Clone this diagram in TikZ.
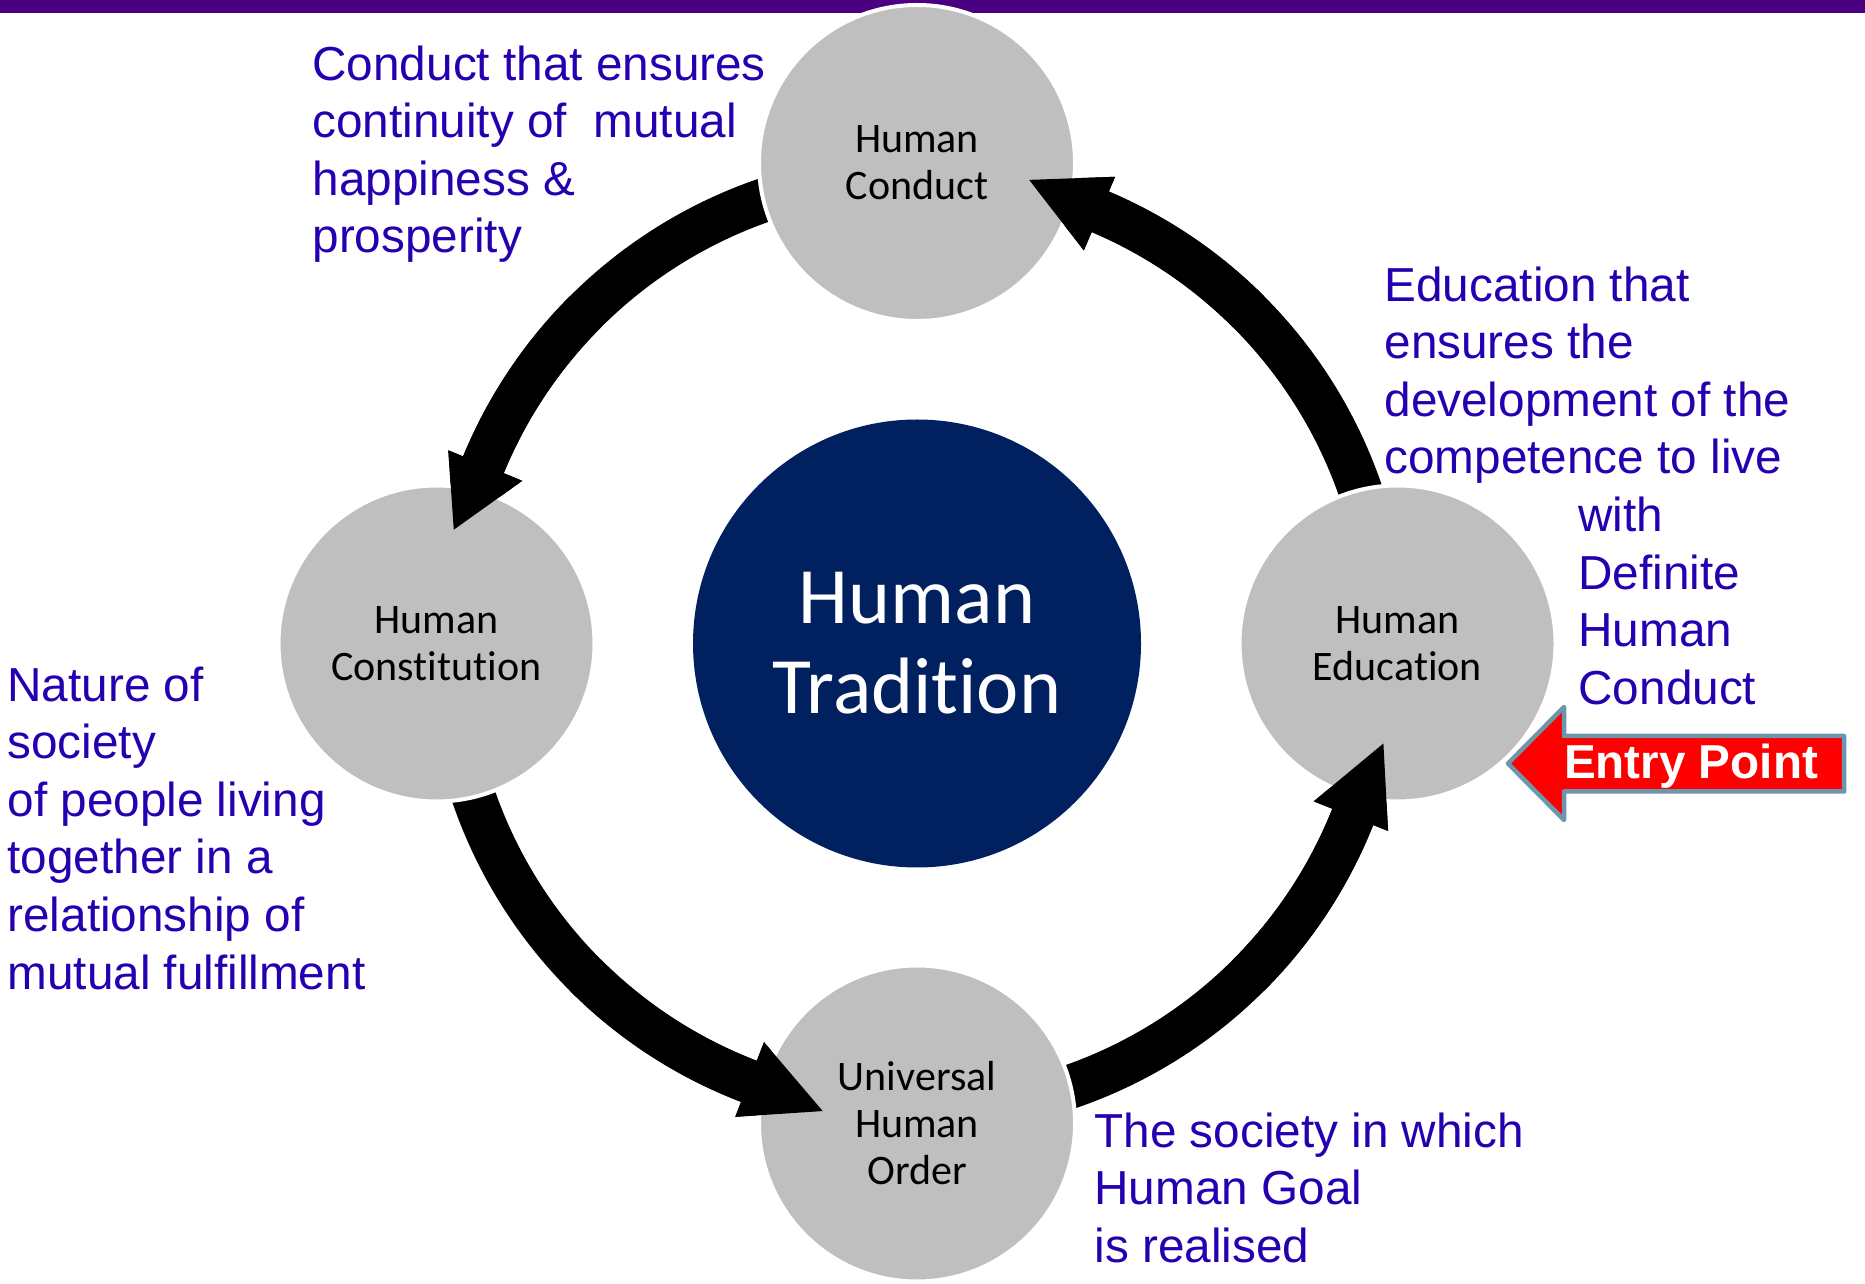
\documentclass[tikz,border=0pt]{standalone}
\usepackage{fontspec}
\setmainfont{Liberation Sans}
\newfontfamily\calibfont[Ligatures=NoCommon]{Carlito}
\definecolor{txtblue}{RGB}{36,0,176}
\definecolor{ringgray}{RGB}{191,191,191}
\definecolor{navy}{RGB}{0,32,96}
\definecolor{barpurple}{RGB}{75,0,130}
\definecolor{entryedge}{RGB}{108,150,172}
% #1 start angle, #2 head base angle, #3 tip angle
\newcommand\cyclearrow[3]{%
  \fill[black] (#1:491pt) arc[start angle=#1, end angle=#2, radius=491pt]
    -- (#2:507pt) -- (#3:477pt) -- (#2:427pt) -- (#2:447pt)
    arc[start angle=#2, end angle=#1, radius=447pt] -- cycle;}
\begin{document}
\begin{tikzpicture}[x=1pt,y=1pt,
  note/.style={anchor=north west, inner sep=0pt, outer sep=0pt, align=left,
    text=txtblue, font=\fontsize{47.7}{57.6}\selectfont},
  ring/.style={circle, fill=ringgray, draw=white, line width=4pt,
    minimum size=316pt, inner sep=0pt, align=center,
    font=\calibfont\fontsize{42}{47}\selectfont}]
\useasboundingbox (0,0) rectangle (1865,1283);
% top bar
\fill[barpurple] (0,1270.3) rectangle (1865,1283);
\coordinate (hub) at (917,639.5);
% full arrows (tails go under the source circles)
\begin{scope}[shift={(hub)}]
  \cyclearrow{95}{157.6}{166.2}
  \cyclearrow{185}{249}{258.6}
  \cyclearrow{275}{338.3}{347.9}
  \cyclearrow{5}{67}{76.4}
\end{scope}
% circles
\node[ring] (conduct) at (917,1120) {Human\\Conduct};
\node[ring] (constitution) at (436.5,639.5) {Human\\Consti\kern0pt tut\kern0pt ion};
\node[ring] (education) at (1397.5,639.5) {Human\\Education};
\node[ring] (order) at (917,159.5) {Universal\\Human\\Order};
\node[circle, fill=navy, minimum size=448pt, inner sep=0pt, align=center,
  text=white, font=\calibfont\fontsize{80}{90}\selectfont] (tradition) at (hub) {Human\\Tradit\kern0pt ion};
% arrow heads drawn over the target circles
\begin{scope}[shift={(hub)}]
  \cyclearrow{135}{157.6}{166.2}
  \cyclearrow{225}{249}{258.6}
  \cyclearrow{315}{338.3}{347.9}
  \cyclearrow{45}{67}{76.4}
\end{scope}
% entry point arrow
\fill[red, draw=entryedge, line width=4.5pt, line join=round]
  (1508,519.5) -- (1564,576) -- (1564,547) -- (1844,547) -- (1844,491.5)
  -- (1564,491.5) -- (1564,463) -- cycle;
\node[text=white, inner sep=0pt, font=\bfseries\fontsize{47.6}{56}\selectfont] (entry) at (1691,517) {Entry Point};
% notes
\node[note] (ntop) at (312.5,1237.5) {Conduct that ensures\\continuity of\ \ mutual\\happiness \&\\prosperity};
\node[note] (nright) at (1384.5,1016.5) {Education that\\ensures the\\development of the\\competence to live\\\hspace*{194pt}with\\\hspace*{194pt}Definite\\\hspace*{194pt}Human\\\hspace*{194pt}Conduct};
\node[note] (nleft) at (7.5,616.5) {Nature of\\society\\of people living\\together in a\\relationship of\\mutual fulfillment};
\node[note] (nbottom) at (1094.5,170.5) {The society in which\\Human Goal\\is realised};
\end{tikzpicture}
\end{document}
